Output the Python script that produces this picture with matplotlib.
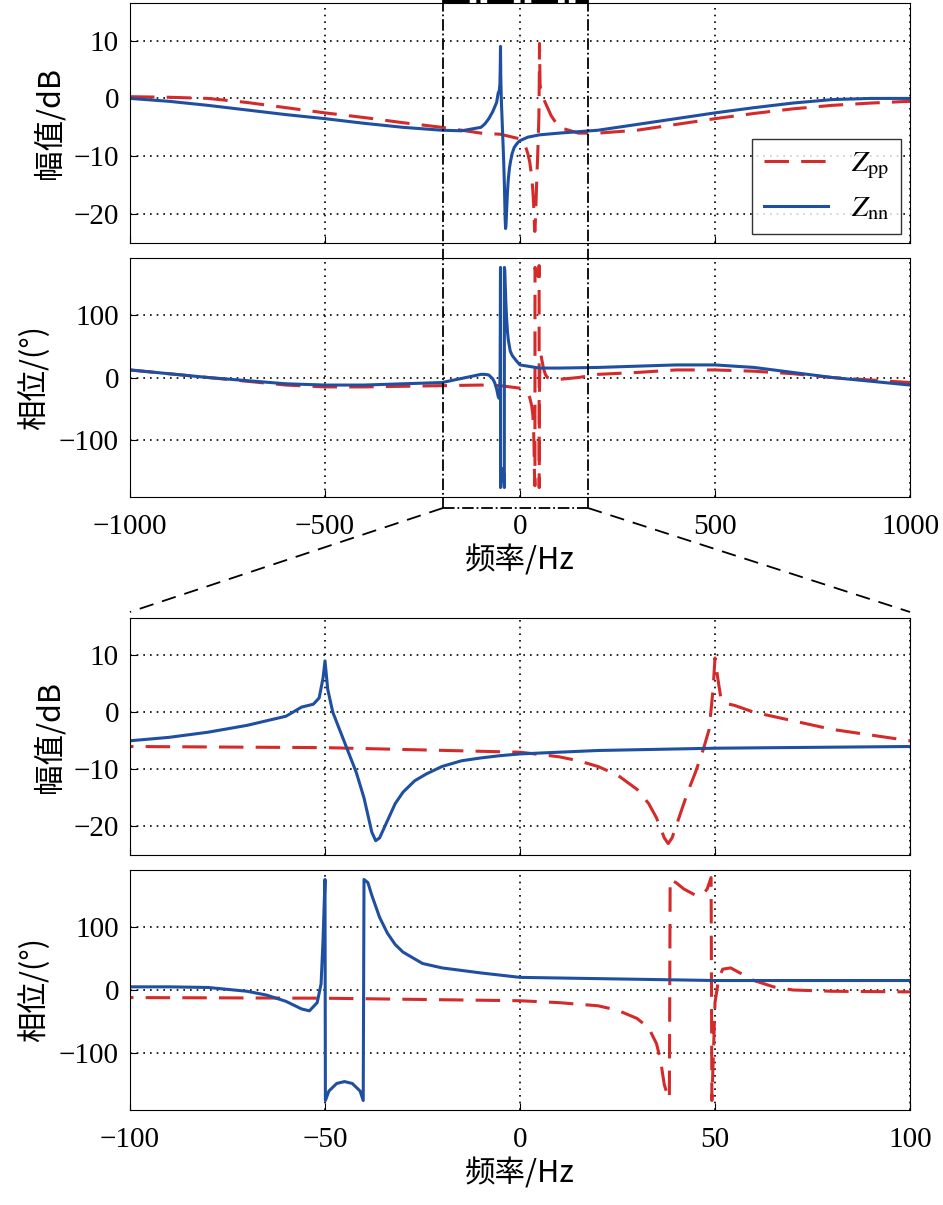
import matplotlib.pyplot as plt
from matplotlib import font_manager as fm
from matplotlib.lines import Line2D

plt.rcParams["font.family"] = "Liberation Serif"
plt.rcParams["mathtext.fontset"] = "stix"
plt.rcParams["font.size"] = 21
plt.rcParams["axes.unicode_minus"] = True

cjk_files = [f for f in fm.findSystemFonts() if "CJK" in f]
def rank(f):
    n = f.lower()
    return (("regular" not in n), ("sc" not in n), ("bold" in n or "black" in n or "heavy" in n), n)
if cjk_files:
    cjk = fm.FontProperties(fname=sorted(cjk_files, key=rank)[0], size=22, weight="normal")
else:
    cjk = fm.FontProperties(family="Noto Sans CJK SC", size=22)

# frequency samples [Hz] and curves
f_nn_mag = [-1000, -900, -800, -700, -600, -500, -400, -300, -200, -150, -100, -90, -80, -70, -60, -56, -53,
            -51.5, -50.5, -50, -49.3, -48, -46, -44, -42, -40, -38, -37, -36, -34, -32, -30, -27, -24,
            -20, -15, -10, -5, 0, 20, 50, 100, 200, 300, 400, 500, 600, 700, 800, 900, 1000]
nn_mag = [0, -0.5, -1.2, -2, -2.8, -3.5, -4.3, -5, -5.5, -5.6, -5, -4.4, -3.5, -2.3, -0.7, 0.9, 1.4,
          2.5, 6, 9, 4, 0, -3.5, -7, -10.5, -15, -21, -22.5, -22, -19, -16, -14, -12, -10.8,
          -9.5, -8.5, -8, -7.6, -7.3, -6.7, -6.3, -6, -5.5, -4.5, -3.5, -2.5, -1.6, -0.8, -0.2, 0, 0]
f_pp_mag = [-1000, -900, -800, -700, -600, -500, -400, -300, -200, -100, -50, 0, 10, 15, 20, 25, 30, 33,
            35, 37, 38, 39, 41, 43, 45, 47, 48.5, 49.5, 50, 50.7, 51.5, 53, 55, 60, 70, 80, 90, 100,
            150, 200, 300, 400, 500, 600, 700, 800, 900, 1000]
pp_mag = [0.3, 0.2, 0, -0.7, -1.6, -2.5, -3.3, -4.2, -5, -6, -6.2, -7, -7.8, -8.5, -9.5, -11, -13.5, -16,
          -18.5, -22, -23, -22, -18, -14, -10.5, -6.5, -3, 4, 9.5, 6, 2.5, 1.5, 1.2, 0, -1.5, -3, -4, -5,
          -6, -6, -5.5, -4.5, -3.5, -2.6, -1.8, -1.2, -0.8, -0.5]
f_nn_ph = [-1000, -800, -600, -500, -400, -300, -200, -100, -90, -80, -70, -65, -60, -56, -54, -52, -51,
           -50.5, -50, -49.9, -49, -47, -45, -43, -41, -40.2, -40, -39, -38, -36, -34, -32, -30, -25,
           -20, -10, 0, 50, 100, 200, 300, 400, 500, 600, 700, 800, 900, 1000]
nn_ph = [12, 0, -10, -12, -12, -10, -8, 5, 5, 4, -2, -8, -18, -30, -33, -20, 10,
         80, 175, -175, -160, -148, -145, -148, -160, -175, 175, 170, 150, 115, 90, 72, 60, 42,
         35, 27, 20, 15, 15, 16, 18, 20, 20, 16, 8, 0, -6, -12]
f_pp_ph = [-1000, -800, -600, -500, -400, -300, -200, -100, -50, 0, 10, 20, 25, 30, 33, 35, 36, 37, 38,
           38.3, 38.5, 40, 42, 45, 47, 48, 49, 49.2, 49.6, 50, 51, 52, 54, 57, 60, 65, 70, 80, 100,
           150, 200, 300, 400, 500, 600, 700, 800, 900, 1000]
pp_ph = [12, 0, -12, -15, -15, -14, -13, -12, -13, -17, -20, -25, -32, -45, -60, -85, -110, -150, -170,
         -172, 175, 170, 160, 150, 152, 160, 178, -175, -100, -20, 20, 33, 35, 25, 15, 5, 0, -2, -3,
         0, 5, 8, 12, 12, 10, 6, 0, -4, -8]

red = "#d42a2a"
blue = "#1f4fa0"

fig = plt.figure(figsize=(9.43, 12.05), dpi=100)
H = 1205.0
def box(top, bot):
    return [130 / 943, 1 - bot / H, 780 / 943, (bot - top) / H]

ax1 = fig.add_axes(box(3, 243))
ax2 = fig.add_axes(box(258, 497))
ax3 = fig.add_axes(box(618, 855))
ax4 = fig.add_axes(box(870, 1110))

for ax, xl, xt in [(ax1, 1000, [-1000, -500, 0, 500, 1000]), (ax2, 1000, [-1000, -500, 0, 500, 1000]),
                   (ax3, 100, [-100, -50, 0, 50, 100]), (ax4, 100, [-100, -50, 0, 50, 100])]:
    ax.set_xlim(-xl, xl)
    ax.set_xticks(xt)
    ax.grid(True, color="black", linestyle=(0, (1, 3)), linewidth=1.2)
    ax.tick_params(direction="in", length=5, pad=8)
    ax.tick_params(axis="x", pad=12)

for ax in (ax1, ax3):
    ax.plot(f_pp_mag, pp_mag, "--", color=red, lw=2.2, dashes=(8, 4), label=r"$Z_{\rm pp}$")
    ax.plot(f_nn_mag, nn_mag, "-", color=blue, lw=2.2, label=r"$Z_{\rm nn}$")
    ax.set_ylim(-25, 16.5)
    ax.set_yticks([-20, -10, 0, 10])
    ax.set_ylabel("幅值/dB", fontproperties=cjk, labelpad=6)
    ax.tick_params(labelbottom=False)
for ax in (ax2, ax4):
    ax.plot(f_pp_ph, pp_ph, "--", color=red, lw=2.2, dashes=(8, 4))
    ax.plot(f_nn_ph, nn_ph, "-", color=blue, lw=2.2)
    ax.set_ylim(-190, 190)
    ax.set_yticks([-100, 0, 100])
    ax.set_ylabel("相位/(°)", fontproperties=cjk, labelpad=6)
    ax.set_xlabel("频率/Hz", fontproperties=cjk, labelpad=4)

ax1.legend(loc="lower right", frameon=True, fancybox=False, edgecolor="black", handlelength=2.2,
           borderaxespad=0.3, fontsize=21).get_frame().set_linewidth(1.0)

# zoom window markers
xl_px, xr_px, yb_px = 443, 588, 508
def fx(p):
    return p / 943
def fy(p):
    return 1 - p / H
for xp in (xl_px, xr_px):
    fig.add_artist(Line2D([fx(xp), fx(xp)], [fy(0), fy(yb_px)], color="black", lw=1.3, ls="-."))
fig.add_artist(Line2D([fx(xl_px), fx(xr_px)], [fy(yb_px), fy(yb_px)], color="black", lw=1.3, ls="-."))
fig.add_artist(Line2D([fx(xl_px), fx(xr_px)], [fy(1), fy(1)], color="black", lw=3, ls="-."))
fig.add_artist(Line2D([fx(xl_px), fx(130)], [fy(yb_px), fy(612)], color="black", lw=1.3, ls=(0, (8, 5))))
fig.add_artist(Line2D([fx(xr_px), fx(910)], [fy(yb_px), fy(612)], color="black", lw=1.3, ls=(0, (8, 5))))

fig.savefig("out.png", dpi=100)
